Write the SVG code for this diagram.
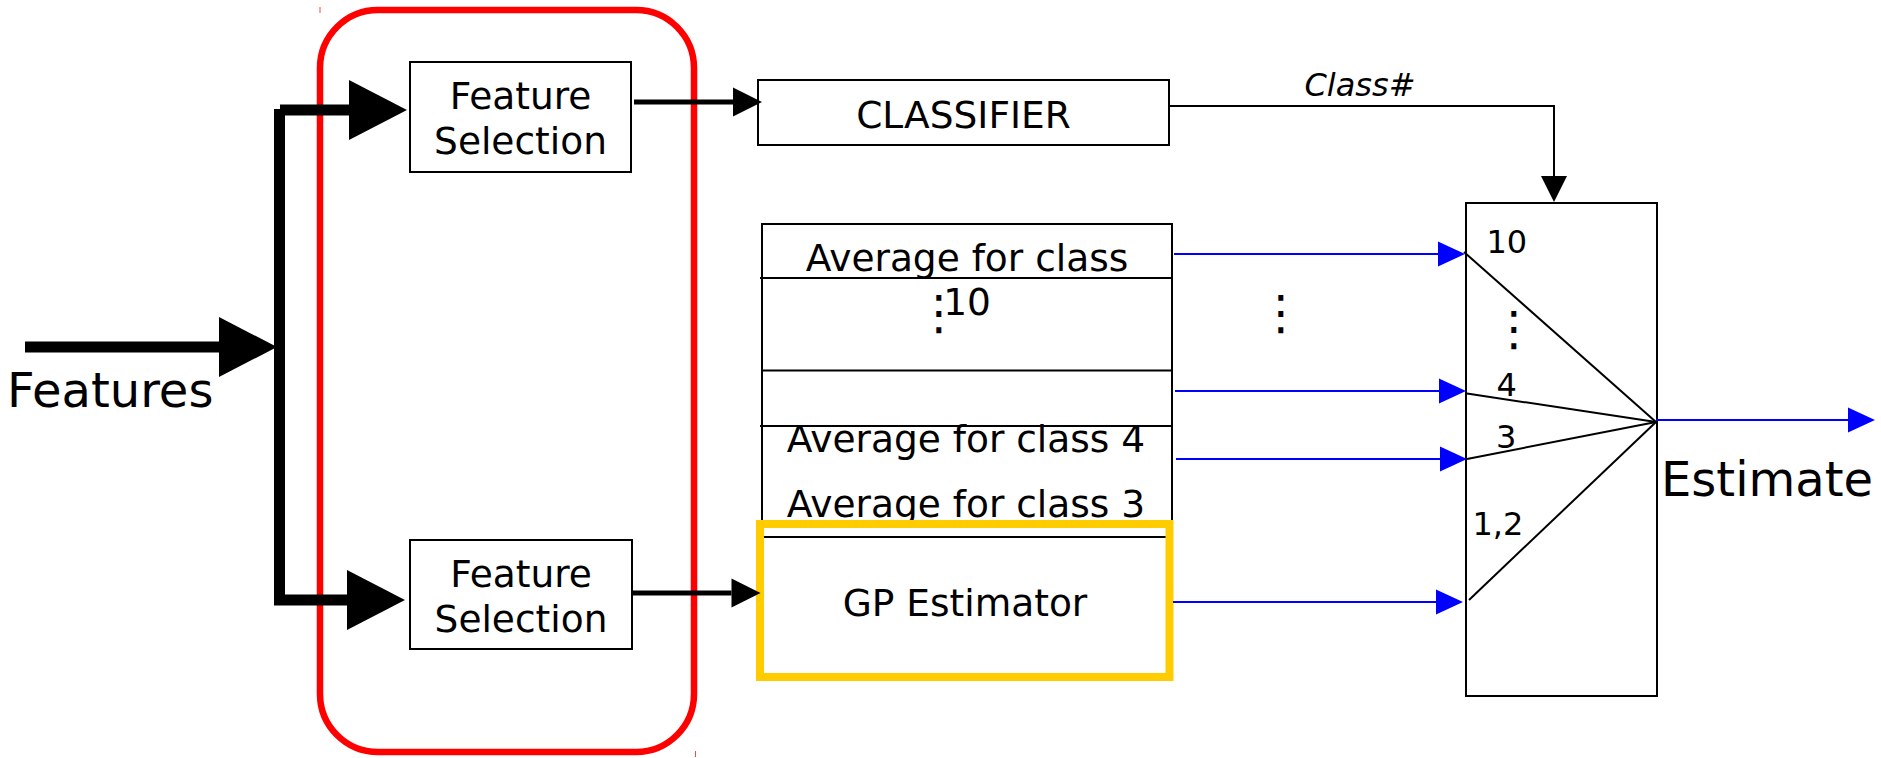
<svg xmlns="http://www.w3.org/2000/svg" width="1881" height="758" viewBox="0 0 1881 758">
  <style>
    text { font-family: "DejaVu Sans", "Liberation Sans", sans-serif; fill: #000; }
    .box { fill: #fff; stroke: #000; stroke-width: 2; }
    .lbl { font-size: 37.5px; text-anchor: middle; }
    .big { font-size: 48px; }
    .num { font-size: 32px; }
    .dots { font-size: 48px; text-anchor: middle; }
    .thick { stroke: #000; stroke-width: 11; fill: none; }
    .feed { stroke: #000; stroke-width: 5; fill: none; }
    .blue { stroke: #00f; stroke-width: 2; fill: none; }
    .fan { stroke: #000; stroke-width: 2; fill: none; }
  </style>
  <defs>
    <marker id="headBig" markerUnits="userSpaceOnUse" markerWidth="60" markerHeight="62" refX="0" refY="30" orient="auto" overflow="visible">
      <path d="M0,0 L58,30 L0,60 z" fill="#000"/>
    </marker>
    <marker id="headMid" markerUnits="userSpaceOnUse" markerWidth="30" markerHeight="30" refX="0" refY="14.5" orient="auto" overflow="visible">
      <path d="M0,0 L29,14.5 L0,29 z" fill="#000"/>
    </marker>
    <marker id="headDown" markerUnits="userSpaceOnUse" markerWidth="27" markerHeight="27" refX="0" refY="13" orient="auto" overflow="visible">
      <path d="M0,0 L26,13 L0,26 z" fill="#000"/>
    </marker>
    <marker id="headBlue" markerUnits="userSpaceOnUse" markerWidth="28" markerHeight="26" refX="0" refY="12.5" orient="auto" overflow="visible">
      <path d="M0,0 L27,12.5 L0,25 z" fill="#00f"/>
    </marker>
  </defs>

  <rect width="1881" height="758" fill="#fff"/>

  <!-- feature-selection stage outline -->
  <g id="selection-stage">
    <rect x="320" y="10" width="374" height="742" rx="58" ry="58" fill="none" stroke="#f00" stroke-width="6.5"/>
    <line x1="320" y1="7" x2="320" y2="13" stroke="#f44" stroke-width="1"/>
    <line x1="695.5" y1="751" x2="695.5" y2="757" stroke="#f44" stroke-width="1"/>
  </g>

  <g id="features-label">
    <text class="big" x="7" y="407">Features</text>
  </g>

  <g id="feature-selection-top">
    <rect class="box" x="410" y="62" width="221" height="110"/>
    <text class="lbl" x="520.5" y="109">Feature</text>
    <text class="lbl" x="520.5" y="154">Selection</text>
  </g>

  <g id="feature-selection-bottom">
    <rect class="box" x="410" y="540" width="222" height="109"/>
    <text class="lbl" x="521" y="587">Feature</text>
    <text class="lbl" x="521" y="632">Selection</text>
  </g>

  <g id="classifier">
    <rect class="box" x="758" y="80" width="411" height="65"/>
    <text class="lbl" x="963.5" y="128">CLASSIFIER</text>
  </g>

  <!-- per-class averages table -->
  <g id="class-averages">
    <rect x="762" y="224" width="410" height="313" fill="#fff" stroke="#000" stroke-width="2"/>
    <line x1="760" y1="278" x2="1173" y2="278" stroke="#000" stroke-width="2"/>
    <line x1="762" y1="370.5" x2="1173" y2="370.5" stroke="#000" stroke-width="2"/>
    <line x1="760" y1="426" x2="1172" y2="426" stroke="#000" stroke-width="2"/>
    <text class="lbl" x="967" y="271">Average for class</text>
    <text class="lbl" x="967" y="315">10</text>
    <text class="dots" x="939" y="329">⋮</text>
    <text class="lbl" x="966" y="452">Average for class 4</text>
    <text class="lbl" x="966" y="517">Average for class 3</text>
  </g>

  <g id="gp-estimator">
    <rect x="760" y="524" width="409.5" height="153" fill="none" stroke="#fc0" stroke-width="8"/>
    <text class="lbl" x="965" y="616">GP Estimator</text>
  </g>

  <!-- class selector: picks one input by class number -->
  <g id="selector">
    <rect x="1466" y="203" width="191" height="493" fill="#fff" stroke="#000" stroke-width="2"/>
    <text class="num" x="1486.5" y="253">10</text>
    <text class="dots" x="1514" y="345">⋮</text>
    <text class="num" x="1496.5" y="396">4</text>
    <text class="num" x="1496" y="448">3</text>
    <text class="num" x="1472.5" y="535">1,2</text>
    <g class="fan">
      <line x1="1464" y1="252" x2="1656" y2="422"/>
      <line x1="1467" y1="393.5" x2="1656" y2="422"/>
      <line x1="1467" y1="459" x2="1656" y2="422"/>
      <line x1="1469" y1="600" x2="1656" y2="422"/>
    </g>
  </g>

  <g id="estimate-label">
    <text class="big" x="1661" y="496">Estimate</text>
  </g>

  <g id="between-dots">
    <text class="dots" x="1281" y="329">⋮</text>
  </g>

  <!-- connectors -->
  <g id="connectors">
    <line class="thick" x1="25" y1="347" x2="219" y2="347" marker-end="url(#headBig)"/>
    <path class="thick" d="M279.5,109 V604"/>
    <line class="thick" x1="280" y1="110" x2="349" y2="110" stroke-width="12" marker-end="url(#headBig)"/>
    <line class="thick" x1="274" y1="600" x2="347" y2="600" stroke-width="13" marker-end="url(#headBig)"/>

    <line class="feed" x1="634" y1="102" x2="733" y2="102" marker-end="url(#headMid)"/>
    <line class="feed" x1="633" y1="593" x2="731.5" y2="593" marker-end="url(#headMid)"/>

    <path d="M1170,106 H1554 V176" fill="none" stroke="#000" stroke-width="2" marker-end="url(#headDown)"/>
    <text x="1360" y="96" font-size="32" font-style="italic" text-anchor="middle">Class#</text>

    <line class="blue" x1="1174" y1="254" x2="1438" y2="254" marker-end="url(#headBlue)"/>
    <line class="blue" x1="1175" y1="391" x2="1439" y2="391" marker-end="url(#headBlue)"/>
    <line class="blue" x1="1176" y1="459" x2="1440" y2="459" marker-end="url(#headBlue)"/>
    <line class="blue" x1="1173" y1="602" x2="1436" y2="602" marker-end="url(#headBlue)"/>
    <line class="blue" x1="1656" y1="420" x2="1848" y2="420" marker-end="url(#headBlue)"/>
  </g>
</svg>
